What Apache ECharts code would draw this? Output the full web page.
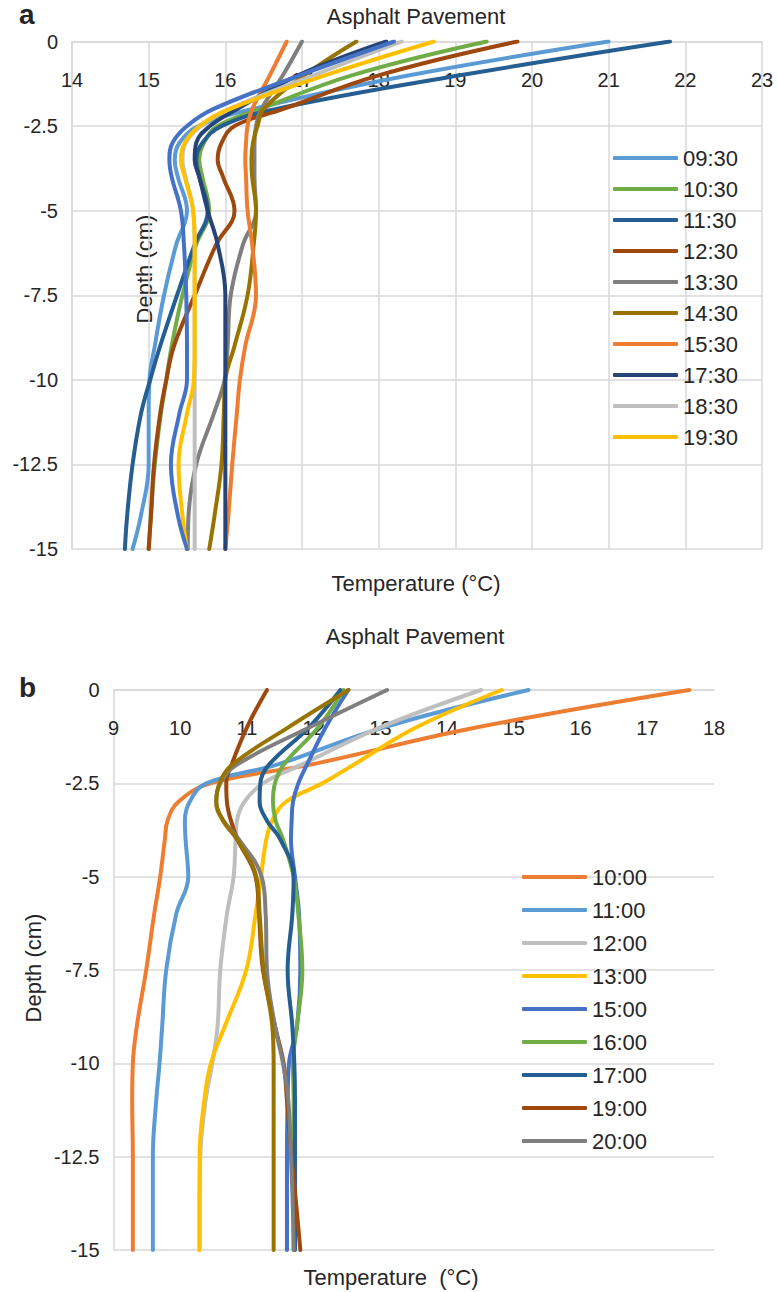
<!DOCTYPE html>
<html>
<head>
<meta charset="utf-8">
<script src="https://cdn.jsdelivr.net/npm/echarts@6/dist/echarts.min.js"></script>
<style>
html,body{margin:0;padding:0;background:#fff;}
#chart{width:777px;height:1292px;}
</style>
</head>
<body>
<div id="chart"></div>
<script>
// ---------- DATA ----------
// Panel a: depth (cm) and temperature (°C) profiles
const depthsA = [0, -1, -2, -2.5, -3, -3.5, -4, -5, -6, -7.5, -9, -10, -11, -12.5, -14, -15];
const tempA_0930 = [21.0, 18.4, 16.35, 15.65, 15.4, 15.34, 15.38, 15.5, 15.36, 15.2, 15.08, 15.01, 15.0, 15.0, 14.9, 14.79];
const tempA_1030 = [19.41, 17.65, 16.45, 15.9, 15.72, 15.66, 15.7, 15.79, 15.62, 15.44, 15.3, 15.23, 15.16, 15.08, 15.03, 15.0];
const tempA_1130 = [21.8, 19.06, 16.65, 15.95, 15.7, 15.62, 15.66, 15.77, 15.6, 15.37, 15.15, 15.02, 14.9, 14.79, 14.72, 14.69];
const tempA_1230 = [19.81, 18.0, 16.75, 16.12, 15.95, 15.9, 15.97, 16.12, 15.88, 15.6, 15.33, 15.23, 15.15, 15.07, 15.03, 15.0];
const tempA_1330 = [17.0, 16.75, 16.47, 16.4, 16.38, 16.38, 16.38, 16.4, 16.23, 16.07, 16.03, 15.99, 15.85, 15.62, 15.52, 15.51];
const tempA_1430 = [17.71, 17.03, 16.5, 16.42, 16.36, 16.34, 16.35, 16.4, 16.37, 16.29, 16.12, 16.0, 15.98, 15.95, 15.86, 15.79];
const tempA_1530 = [16.8, 16.58, 16.35, 16.29, 16.27, 16.26, 16.27, 16.29, 16.35, 16.4, 16.26, 16.19, 16.15, 16.09, 16.04, 16.0];
const tempA_1730 = [18.1, 16.95, 16.15, 15.8, 15.62, 15.6, 15.66, 15.77, 15.9, 16.0, 16.0, 16.0, 16.0, 16.0, 16.0, 16.0];
const tempA_1830 = [18.3, 17.15, 16.05, 15.68, 15.48, 15.44, 15.48, 15.58, 15.6, 15.6, 15.6, 15.6, 15.6, 15.6, 15.6, 15.6];
const tempA_1930 = [18.72, 17.3, 16.05, 15.66, 15.47, 15.42, 15.47, 15.58, 15.6, 15.6, 15.6, 15.59, 15.5, 15.39, 15.44, 15.5];
const tempA_1630 = [18.2, 16.97, 15.84, 15.5, 15.31, 15.27, 15.3, 15.42, 15.46, 15.49, 15.5, 15.5, 15.4, 15.29, 15.38, 15.5];
const legendA = ['09:30', '10:30', '11:30', '12:30', '13:30', '14:30', '15:30', '17:30', '18:30', '19:30'];

// Panel b
const depthsB = [0, -1, -2, -2.5, -3, -3.5, -4, -5, -6, -7.5, -9, -10, -11, -12.5, -14, -15];
const tempB_1000 = [17.63, 14.45, 11.95, 10.45, 9.97, 9.81, 9.77, 9.7, 9.61, 9.49, 9.35, 9.29, 9.28, 9.29, 9.29, 9.29];
const tempB_1100 = [15.22, 13.05, 11.45, 10.39, 10.14, 10.07, 10.08, 10.12, 9.94, 9.79, 9.73, 9.69, 9.64, 9.59, 9.59, 9.59];
const tempB_1200 = [14.51, 13.0, 11.82, 11.24, 10.96, 10.85, 10.83, 10.8, 10.7, 10.6, 10.56, 10.48, 10.38, 10.3, 10.29, 10.29];
const tempB_1300 = [14.82, 13.54, 12.6, 12.13, 11.58, 11.38, 11.29, 11.21, 11.13, 10.99, 10.67, 10.46, 10.36, 10.29, 10.29, 10.29];
const tempB_1500 = [12.52, 12.18, 11.9, 11.77, 11.69, 11.67, 11.66, 11.72, 11.78, 11.8, 11.75, 11.63, 11.61, 11.6, 11.6, 11.6];
const tempB_1600 = [12.45, 12.07, 11.55, 11.42, 11.39, 11.43, 11.54, 11.7, 11.77, 11.83, 11.75, 11.69, 11.7, 11.7, 11.7, 11.7];
const tempB_1700 = [12.4, 11.93, 11.33, 11.2, 11.19, 11.3, 11.5, 11.7, 11.68, 11.61, 11.68, 11.71, 11.72, 11.72, 11.72, 11.72];
const tempB_1900 = [11.3, 11.0, 10.77, 10.69, 10.7, 10.76, 10.86, 11.13, 11.18, 11.24, 11.42, 11.55, 11.6, 11.67, 11.75, 11.8];
const tempB_2000 = [13.1, 11.94, 10.85, 10.6, 10.54, 10.65, 10.88, 11.22, 11.28, 11.3, 11.42, 11.54, 11.62, 11.66, 11.69, 11.7];
const tempB_1800 = [12.52, 11.62, 10.78, 10.59, 10.54, 10.64, 10.85, 11.14, 11.19, 11.25, 11.38, 11.4, 11.4, 11.4, 11.4, 11.4];
const legendB = ['10:00', '11:00', '12:00', '13:00', '15:00', '16:00', '17:00', '19:00', '20:00'];

const ticksA = {min: 14, max: 23, step: 1};
const ticksB = {min: 9, max: 18, step: 1};
const depthTicks = {min: -15, max: 0, step: 2.5};

// ---------- STYLE ----------
const FONT = 'Liberation Sans';
const TXT = '#262626';
const GRID = '#D9D9D9';
const C = {
  lblue: '#5B9BD5', orange: '#ED7D31', lgray: '#BFBFBF', yellow: '#FFC000',
  mblue: '#4472C4', green: '#70AD47', dblue: '#255E91', brown: '#9E480E',
  gray: '#7F7F7F', olive: '#997300', navy: '#264478'
};

const seriesDefsA = [
  ['09:30', tempA_0930, C.lblue], ['10:30', tempA_1030, C.green], ['11:30', tempA_1130, C.dblue],
  ['12:30', tempA_1230, C.brown], ['13:30', tempA_1330, C.gray], ['14:30', tempA_1430, C.olive],
  ['15:30', tempA_1530, C.orange], ['17:30', tempA_1730, C.navy], ['18:30', tempA_1830, C.lgray],
  ['19:30', tempA_1930, C.yellow], ['16:30', tempA_1630, C.mblue]
];
const seriesDefsB = [
  ['10:00', tempB_1000, C.orange], ['11:00', tempB_1100, C.lblue], ['12:00', tempB_1200, C.lgray],
  ['13:00', tempB_1300, C.yellow], ['15:00', tempB_1500, C.mblue], ['16:00', tempB_1600, C.green],
  ['17:00', tempB_1700, C.dblue], ['19:00', tempB_1900, C.brown], ['20:00', tempB_2000, C.gray],
  ['18:00', tempB_1800, C.olive]
];

function mk(defs, depths, idx) {
  return defs.map(([name, temps, color]) => ({
    name, type: 'line', xAxisIndex: idx, yAxisIndex: idx,
    data: temps.map((t, i) => [t, depths[i]]),
    smooth: 0.4, symbol: 'none', showSymbol: false,
    lineStyle: {width: 4, color, cap: 'round'}, itemStyle: {color},
    emphasis: {disabled: true}
  }));
}

function xAx(idx, ticks, split) {
  return {
    gridIndex: idx, type: 'value', position: 'top', min: ticks.min, max: ticks.max, interval: ticks.step,
    axisLine: {show: true, onZero: false, lineStyle: {color: GRID, width: 1.5}},
    axisTick: {show: false},
    axisLabel: {inside: true, margin: 28, fontSize: 20, color: TXT, fontFamily: FONT},
    splitLine: {show: split, lineStyle: {color: GRID, width: 1.5}}
  };
}
function yAx(idx) {
  return {
    gridIndex: idx, type: 'value', min: depthTicks.min, max: depthTicks.max, interval: depthTicks.step,
    axisLine: {show: true, onZero: false, lineStyle: {color: GRID, width: 1.5}},
    axisTick: {show: false},
    axisLabel: {margin: 14, fontSize: 20, color: TXT, fontFamily: FONT},
    splitLine: {show: true, lineStyle: {color: GRID, width: 1.5}}
  };
}
function txt(text, x, y, size, opts) {
  opts = opts || {};
  return {
    type: 'text', x, y, rotation: opts.rot || 0, silent: true,
    style: {
      text, fill: TXT, font: (opts.bold ? 'bold ' : '') + size + 'px "' + FONT + '"',
      align: opts.align || 'center', verticalAlign: 'middle',
      textAlign: opts.align || 'center', textVerticalAlign: 'middle'
    }
  };
}
function leg(data, left, top, gap) {
  return {
    data: data.map(n => ({name: n, icon: 'roundRect'})), orient: 'vertical', left, top,
    itemWidth: 65, itemHeight: 4, itemGap: gap,
    textStyle: {fontSize: 22, color: TXT, fontFamily: FONT, lineHeight: 22}, selectedMode: false
  };
}

const chart = echarts.init(document.getElementById('chart'), null, {renderer: 'svg'});
chart.setOption({
  animation: false,
  backgroundColor: '#fff',
  grid: [
    {left: 72, top: 41.5, width: 690, height: 507.5},
    {left: 113.5, top: 690, width: 600.5, height: 560}
  ],
  xAxis: [xAx(0, ticksA, true), xAx(1, ticksB, false)],
  yAxis: [yAx(0), yAx(1)],
  legend: [leg(legendA, 608, 142, 9), leg(legendB, 517, 861, 11)],
  series: mk(seriesDefsA, depthsA, 0).concat(mk(seriesDefsB, depthsB, 1)),
  graphic: [
    txt('a', 19, 14, 28, {bold: true, align: 'left'}),
    txt('Asphalt Pavement', 416, 16.5, 22),
    txt('Temperature (°C)', 416, 583, 22),
    txt('Depth (cm)', 144, 269, 22, {rot: Math.PI / 2}),
    txt('b', 19, 687, 28, {bold: true, align: 'left'}),
    txt('Asphalt Pavement', 415, 636.5, 22),
    txt('Temperature  (°C)', 391, 1277, 22),
    txt('Depth (cm)', 33, 968, 22, {rot: Math.PI / 2})
  ]
});
</script>
</body>
</html>
